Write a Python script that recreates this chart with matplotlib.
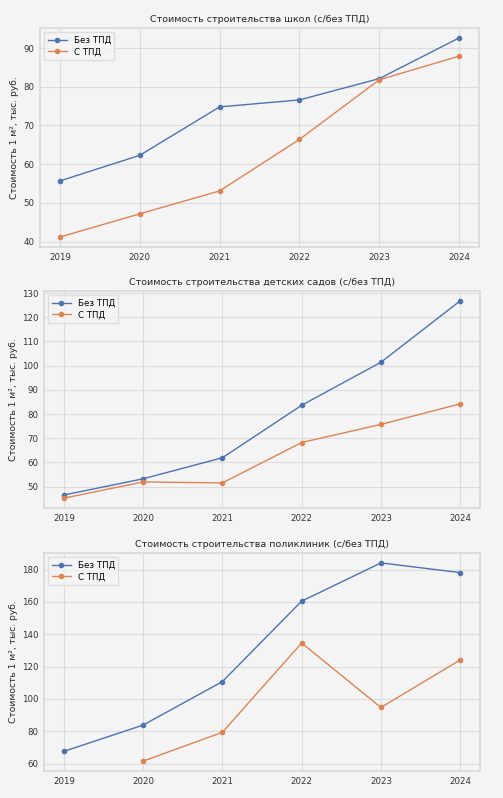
import numpy as np
import matplotlib.pyplot as plt

# Годы и стоимость 1 м2 (тыс. руб.)
years = [2019, 2020, 2021, 2022, 2023, 2024]

schools_no_tpd = [55.7, 62.3, 74.8, 76.6, 82.1, 92.6]
schools_tpd = [41.2, 47.2, 53.1, 66.4, 81.8, 87.9]

kinder_no_tpd = [46.5, 53.2, 61.9, 83.6, 101.4, 126.8]
kinder_tpd = [45.2, 51.9, 51.5, 68.2, 75.7, 84.2]

clinics_no_tpd = [67.5, 83.8, 110.7, 160.5, 184.2, 178.2]
clinics_tpd = [np.nan, 61.5, 79.3, 134.6, 94.7, 124.1]

titles = ["Стоимость строительства школ (с/без ТПД)",
          "Стоимость строительства детских садов (с/без ТПД)",
          "Стоимость строительства поликлиник (с/без ТПД)"]
series = [(schools_no_tpd, schools_tpd),
          (kinder_no_tpd, kinder_tpd),
          (clinics_no_tpd, clinics_tpd)]

bg = '#f4f4f4'
W, H = 503, 798
# axes boxes in pixels: left, right, top, bottom
boxes = [(40, 479, 28, 247), (44, 480, 291, 508), (44, 480, 553, 771)]

fig = plt.figure(figsize=(W/100, H/100), dpi=100, facecolor=bg)

for (l, r, t, b), title, (s1, s2) in zip(boxes, titles, series):
    ax = fig.add_axes([l/W, 1 - b/H, (r-l)/W, (b-t)/H])
    ax.set_facecolor(bg)
    ax.plot(years, s1, 'o-', color='#4c72b0', linewidth=1.0, markersize=3, label="Без ТПД")
    ax.plot(years, s2, 'o-', color='#dd8452', linewidth=1.0, markersize=3, label="С ТПД")
    ax.grid(True, color='#dcdcdc', linewidth=0.8)
    ax.set_axisbelow(True)
    for sp in ax.spines.values():
        sp.set_color('#d9d9d9')
        sp.set_linewidth(1.2)
    ax.tick_params(length=0, labelsize=6.2, colors='#333333', pad=4)
    ax.set_xticks(years)
    ax.set_title(title, fontsize=6.8, color='#262626', pad=4)
    ax.set_ylabel("Стоимость 1 м², тыс. руб.", fontsize=6.6, color='#262626', labelpad=3)
    leg = ax.legend(loc='upper left', fontsize=6.2, frameon=True, fancybox=False,
                    borderpad=0.4, handlelength=2.2, labelspacing=0.3)
    leg.get_frame().set_facecolor(bg)
    leg.get_frame().set_edgecolor('#d9d9d9')

fig.savefig('out.png', dpi=100, facecolor=bg)
